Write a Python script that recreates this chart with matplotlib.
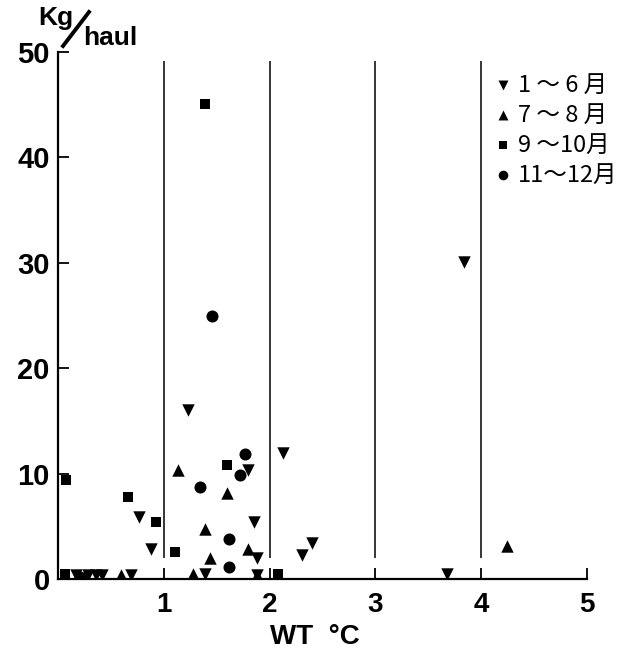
import matplotlib
matplotlib.use("Agg")
import matplotlib.pyplot as plt
from matplotlib.lines import Line2D

plt.rcParams['font.family'] = ['Liberation Sans', 'DejaVu Sans']

# ---- data ----
labels = ["1 ～ 6 月", "7 ～ 8 月", "9 ～10月", "11～12月"]

x_jan_jun = [0.17, 0.28, 0.36, 0.42, 0.69, 0.77, 0.88, 1.23, 1.39, 1.80, 1.85, 1.88, 1.88, 2.13, 2.31, 2.40, 3.68, 3.84]
y_jan_jun = [0.4, 0.4, 0.4, 0.4, 0.4, 5.9, 2.85, 16.0, 0.5, 10.3, 5.4, 2.0, 0.4, 12.0, 2.3, 3.4, 0.5, 30.1]

x_jul_aug = [0.60, 1.13, 1.28, 1.39, 1.44, 1.60, 1.80, 1.88, 4.24]
y_jul_aug = [0.4, 10.3, 0.5, 4.7, 2.0, 8.2, 2.85, 0.4, 3.1]

x_sep_oct = [0.07, 0.08, 0.66, 0.93, 1.11, 1.39, 1.60, 2.08]
y_sep_oct = [0.45, 9.4, 7.8, 5.4, 2.6, 45.1, 10.8, 0.45]

x_nov_dec = [0.21, 1.34, 1.46, 1.62, 1.62, 1.72, 1.77]
y_nov_dec = [0.2, 8.7, 25.0, 3.8, 1.1, 9.9, 11.9]

x_ticks = [1, 2, 3, 4, 5]
y_ticks = [0, 10, 20, 30, 40, 50]
div_lines = [1, 2, 3, 4]

# ---- figure ----
fig = plt.figure(figsize=(6.26, 6.62), dpi=100)
ax = fig.add_axes([58/626, 83/662, 529/626, 527/662])
ax.set_xlim(0, 5)
ax.set_ylim(0, 50)

for xv in div_lines:
    ax.plot([xv, xv], [2.0, 49.1], color='black', lw=1.1, solid_capstyle='butt')

ms = 80
ax.scatter(x_jan_jun, y_jan_jun, marker='v', s=ms, color='black', label=labels[0], zorder=3, linewidths=0)
ax.scatter(x_jul_aug, y_jul_aug, marker='^', s=ms, color='black', label=labels[1], zorder=3, linewidths=0)
ax.scatter(x_sep_oct, y_sep_oct, marker='s', s=62, color='black', label=labels[2], zorder=3, linewidths=0)
ax.scatter(x_nov_dec, y_nov_dec, marker='o', s=75, color='black', label=labels[3], zorder=3, linewidths=0)

for side in ['top', 'right']:
    ax.spines[side].set_visible(False)
for side in ['left', 'bottom']:
    ax.spines[side].set_linewidth(1.6)

ax.set_xticks([0] + x_ticks)
ax.set_xticklabels([''] + [str(t) for t in x_ticks])
ax.set_yticks(y_ticks)
ax.set_yticklabels([str(t) for t in y_ticks])
ax.tick_params(axis='both', direction='in', length=8, width=1.3)
ax.tick_params(axis='x', pad=9, labelsize=20)
ax.tick_params(axis='y', pad=6, labelsize=21)
for t in ax.get_xticklabels() + ax.get_yticklabels():
    t.set_fontweight('bold')

ax.set_xlabel("WT  °C", fontsize=20, fontweight='bold')
ax.xaxis.set_label_coords(0.485, -0.085)

# y label: Kg / haul
fig.text(38/626, 1 - 25/662, "Kg", fontsize=19, fontweight='bold', ha='left', va='baseline')
fig.text(83/626, 1 - 45/662, "haul", fontsize=19, fontweight='bold', ha='left', va='baseline')
fig.add_artist(Line2D([63/626, 89/626], [1 - 46/662, 1 - 12/662], color='black', lw=2.8,
                      transform=fig.transFigure))

leg = ax.legend(loc='upper left', bbox_to_anchor=(427/529, 1.0 - 12/527), frameon=False,
                prop={'family': ['Noto Sans CJK JP', 'DejaVu Sans'], 'size': 17},
                handletextpad=0.3, labelspacing=0.3, handlelength=0.7, borderaxespad=0,
                markerscale=0.8)

fig.savefig("out.png", dpi=100)
